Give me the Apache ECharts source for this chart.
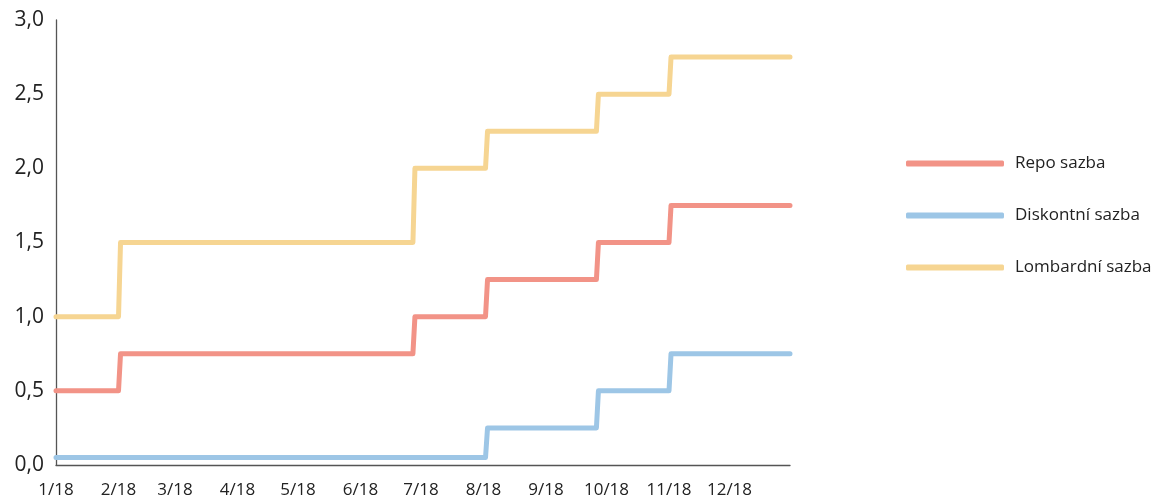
<!DOCTYPE html>
<html><head><meta charset="utf-8">
<script src="https://cdn.jsdelivr.net/npm/echarts@6/dist/echarts.min.js"></script>
<style>html,body{margin:0;padding:0;background:#fff}#c{width:1170px;height:499px}</style>
</head><body><div id="c"></div>
<script>
// Change dates (day before change and day of change) through 2018
const dates = ['2018-01-01','2018-02-01','2018-02-02','2018-06-27','2018-06-28','2018-08-02','2018-08-03','2018-09-26','2018-09-27','2018-11-01','2018-11-02','2018-12-31'];
const repo      = [0.50,0.50,0.75,0.75,1.00,1.00,1.25,1.25,1.50,1.50,1.75,1.75];
const diskont   = [0.05,0.05,0.05,0.05,0.05,0.05,0.25,0.25,0.50,0.50,0.75,0.75];
const lombard   = [1.00,1.00,1.50,1.50,2.00,2.00,2.25,2.25,2.50,2.50,2.75,2.75];
const seriesNames = ['Repo sazba','Diskontní sazba','Lombardní sazba'];
const monthTicks = ['2018-01-01','2018-02-01','2018-03-01','2018-04-01','2018-05-01','2018-06-01','2018-07-01','2018-08-01','2018-09-01','2018-10-01','2018-11-01','2018-12-01'];
const monthLabels = ['1/18','2/18','3/18','4/18','5/18','6/18','7/18','8/18','9/18','10/18','11/18','12/18'];
const yTicks = [0,0.5,1,1.5,2,2.5,3];

const colors = ['#F29387','#9DC6E6','#F6D592'];
const font = '"Open Sans", "Noto Sans", sans-serif';
const ts = d => Date.UTC(+d.slice(0,4), +d.slice(5,7)-1, +d.slice(8,10));
const tickTs = monthTicks.map(ts);
const toPairs = vals => dates.map((d,i)=>[ts(d), vals[i]]);
const chart = echarts.init(document.getElementById('c'));
chart.setOption({
  animation:false,
  grid:{left:56, right:380, top:20, bottom:34, containLabel:false},
  legend:{
    orient:'vertical', left:901, top:150, itemGap:35,
    itemWidth:98, itemHeight:6, icon:'roundRect',
    textStyle:{fontFamily:font, fontSize:17, color:'#222', padding:[0,0,0,6]},
    data:seriesNames
  },
  xAxis:{
    type:'value', min:ts('2018-01-01'), max:ts('2018-12-31'),
    axisLine:{lineStyle:{color:'#555', width:1.3}},
    axisTick:{show:false},
    splitLine:{show:false},
    axisLabel:{
      customValues: tickTs,
      formatter: v => { const i = tickTs.indexOf(v); return i>=0 ? monthLabels[i] : ''; },
      fontFamily:font, fontSize:17, color:'#222', margin:17, hideOverlap:false
    }
  },
  yAxis:{
    type:'value', min:0, max:3, interval:0.5,
    axisLine:{show:true, lineStyle:{color:'#555', width:1.3}},
    axisTick:{show:false},
    splitLine:{show:false},
    axisLabel:{
      customValues: yTicks,
      formatter: v => v.toFixed(1).replace('.',','),
      fontFamily:font, fontSize:21, color:'#222', margin:12
    }
  },
  series:[
    {name:seriesNames[0], type:'line', data:toPairs(repo), color:colors[0], showSymbol:false, lineStyle:{width:5, cap:'round', join:'round'}},
    {name:seriesNames[1], type:'line', data:toPairs(diskont), color:colors[1], showSymbol:false, lineStyle:{width:5, cap:'round', join:'round'}},
    {name:seriesNames[2], type:'line', data:toPairs(lombard), color:colors[2], showSymbol:false, lineStyle:{width:5, cap:'round', join:'round'}}
  ]
});
</script></body></html>
